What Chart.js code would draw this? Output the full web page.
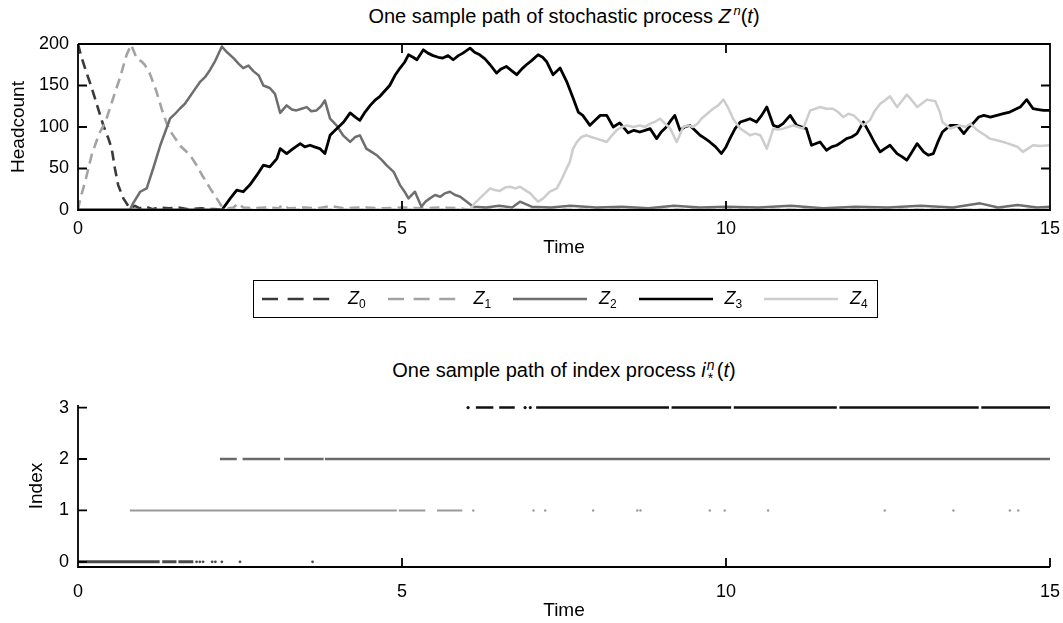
<!DOCTYPE html>
<html>
<head>
<meta charset="utf-8">
<script src="https://cdn.jsdelivr.net/npm/chart.js@4.4.1/dist/chart.umd.min.js"></script>
<style>
body { margin: 0; background: #fff; overflow: hidden; font-family: "Liberation Sans", Arial, sans-serif; }
#wrap { position: relative; width: 1063px; height: 623px; }
canvas { position: absolute; left: 0; }
.title { position: absolute; left: 0; width: 1128px; text-align: center; font-size: 20px; line-height: 24px; color: #000; }
.title sup, .title sub { font-size: 13px; line-height: 0; }
.stack { display: inline-block; position: relative; width: 11px; height: 10px; }
.stack i { position: absolute; left: 1px; top: -9px; font-size: 14px; line-height: 14px; }
.stack b { position: absolute; left: 2px; top: 4px; font-size: 14px; line-height: 14px; font-weight: normal; }
#legend { position: absolute; left: 253px; top: 280px; width: 625px; height: 38px; box-sizing: border-box; border: 1.5px solid #000; }
.item { position: absolute; top: 0; height: 35px; display: flex; align-items: center; font-size: 18px; color: #000; }
.item sub { font-size: 12px; line-height: 0; vertical-align: -0.35em; }
.item svg { margin-right: 12px; }
</style>
</head>
<body>
<div id="wrap">
  <div class="title" style="top:4px">One sample path of stochastic process <i>Z</i><sup>&thinsp;<i>n</i></sup>(<i>t</i>)</div>
  <canvas id="graph1" width="1063" height="330" style="top:0"></canvas>
  <div id="legend"></div>
  <div class="title" style="top:358px">One sample path of index process <i>i</i><span class="stack"><i>n</i><b>*</b></span>(<i>t</i>)</div>
  <canvas id="graph2" width="1063" height="283" style="top:340px"></canvas>
</div>
<script>
// tick values
const timeTicks = [0, 5, 10, 15];
const headcountTicks = [0, 50, 100, 150, 200];
const indexTicks = [0, 1, 2, 3];

// headcount paths Z0..Z4 (time, value)
const z0Time = [0, 0.05, 0.12, 0.2, 0.28, 0.35, 0.4, 0.47, 0.52, 0.57, 0.62, 0.7, 0.8, 0.88, 0.95, 1.05, 1.15, 1.25, 1.4, 1.55, 1.7, 1.9, 2.1, 2.3, 3, 4, 5, 6, 8, 10, 12, 15];
const z0Count = [200, 185, 168, 150, 130, 112, 100, 86, 74, 50, 30, 14, 2, 5, 2, 4, 1, 3, 2, 3, 1, 2, 1, 0, 0, 0, 0, 0, 0, 0, 0, 0];

const z1Time = [0, 0.03, 0.11, 0.21, 0.29, 0.34, 0.39, 0.44, 0.54, 0.65, 0.75, 0.82, 0.91, 0.98, 1.03, 1.1, 1.21, 1.29, 1.37, 1.45, 1.52, 1.57, 1.65, 1.73, 1.83, 1.93, 2.04, 2.14, 2.22, 2.32, 2.4, 2.47, 2.55, 2.7, 2.9, 3.1, 3.15, 3.25, 3.5, 3.7, 3.9, 4.1, 4.4, 4.7, 5.0, 5.3, 5.6, 5.9, 6.05, 7, 9, 11, 13, 15];
const z1Count = [0, 12, 34, 66, 84, 94, 101, 110, 134, 160, 187, 199, 182, 179, 175, 166, 143, 122, 104, 92, 84, 78, 72, 66, 54, 40, 26, 14, 4, 2, 3, 8, 3, 2, 3, 2, 6, 2, 3, 2, 5, 2, 3, 2, 3, 2, 3, 2, 0, 0, 0, 0, 0, 0];

const z2Time = [0, 0.8, 0.85, 0.96, 1.06, 1.16, 1.27, 1.42, 1.5, 1.57, 1.65, 1.73, 1.8, 1.88, 1.96, 2.04, 2.12, 2.22, 2.3, 2.4, 2.48, 2.55, 2.63, 2.71, 2.79, 2.86, 2.96, 3.04, 3.12, 3.22, 3.3, 3.37, 3.45, 3.53, 3.6, 3.68, 3.75, 3.81, 3.89, 3.99, 4.09, 4.2, 4.28, 4.35, 4.45, 4.53, 4.61, 4.69, 4.76, 4.87, 4.97, 5.04, 5.1, 5.2, 5.3, 5.36, 5.43, 5.51, 5.59, 5.66, 5.74, 5.82, 5.9, 6.0, 6.1, 6.3, 6.5, 6.7, 6.82, 7.0, 7.3, 7.6, 8.0, 8.4, 8.8, 9.2, 9.6, 10.0, 10.5, 11.0, 11.5, 12.0, 12.5, 13.0, 13.5, 13.92, 14.2, 14.5, 14.8, 15];
const z2Count = [0, 0, 8, 22, 26, 50, 78, 110, 116, 122, 128, 137, 145, 154, 160, 169, 180, 197, 190, 183, 176, 171, 174, 167, 162, 150, 147, 140, 117, 126, 121, 120, 122, 124, 119, 120, 125, 132, 110, 102, 90, 82, 88, 90, 74, 70, 66, 60, 54, 46, 30, 22, 14, 22, 4, 10, 14, 18, 16, 20, 22, 18, 16, 10, 4, 3, 5, 3, 10, 4, 3, 5, 3, 4, 2, 5, 3, 4, 3, 5, 2, 4, 3, 5, 3, 8, 3, 6, 3, 4];

const z3Time = [0, 2.22, 2.35, 2.45, 2.55, 2.65, 2.76, 2.86, 2.96, 3.07, 3.12, 3.22, 3.32, 3.43, 3.5, 3.58, 3.65, 3.73, 3.81, 3.89, 3.94, 4.02, 4.1, 4.2, 4.28, 4.35, 4.43, 4.51, 4.58, 4.66, 4.74, 4.81, 4.89, 4.97, 5.04, 5.1, 5.17, 5.23, 5.33, 5.4, 5.48, 5.56, 5.63, 5.71, 5.79, 5.87, 5.94, 6.05, 6.12, 6.2, 6.28, 6.36, 6.46, 6.53, 6.61, 6.69, 6.77, 6.85, 6.92, 7.0, 7.1, 7.17, 7.23, 7.33, 7.44, 7.54, 7.64, 7.72, 7.79, 7.9, 7.98, 8.06, 8.16, 8.26, 8.36, 8.49, 8.58, 8.67, 8.75, 8.83, 8.93, 9.0, 9.08, 9.15, 9.21, 9.29, 9.36, 9.44, 9.52, 9.6, 9.68, 9.75, 9.84, 9.93, 10.0, 10.06, 10.14, 10.22, 10.3, 10.37, 10.47, 10.55, 10.63, 10.73, 10.8, 10.88, 10.99, 11.09, 11.17, 11.24, 11.32, 11.45, 11.55, 11.63, 11.71, 11.79, 11.86, 11.94, 12.02, 12.12, 12.22, 12.3, 12.38, 12.45, 12.53, 12.64, 12.72, 12.79, 12.87, 12.95, 13.05, 13.12, 13.2, 13.27, 13.34, 13.46, 13.57, 13.67, 13.75, 13.82, 13.9, 13.98, 14.08, 14.18, 14.28, 14.38, 14.46, 14.54, 14.64, 14.74, 14.82, 14.9, 15];
const z3Count = [0, 0, 14, 24, 22, 30, 42, 54, 52, 62, 74, 68, 74, 80, 76, 78, 76, 74, 68, 90, 94, 100, 106, 117, 112, 108, 118, 126, 132, 137, 144, 150, 162, 171, 178, 187, 184, 181, 193, 189, 186, 184, 183, 186, 181, 186, 189, 195, 190, 187, 182, 175, 165, 170, 173, 168, 163, 170, 175, 180, 187, 184, 179, 163, 171, 155, 135, 118, 114, 102, 108, 114, 114, 100, 105, 93, 96, 94, 96, 98, 86, 94, 100, 108, 114, 96, 100, 102, 96, 90, 86, 82, 76, 68, 76, 86, 98, 106, 108, 110, 106, 114, 124, 102, 100, 104, 114, 102, 100, 98, 78, 82, 72, 76, 78, 82, 86, 88, 92, 106, 92, 80, 70, 74, 78, 68, 64, 60, 70, 80, 70, 66, 68, 82, 94, 102, 102, 92, 100, 105, 112, 114, 112, 114, 116, 118, 121, 124, 133, 122, 121, 120, 120];

const z4Time = [0, 6.05, 6.12, 6.2, 6.28, 6.36, 6.43, 6.51, 6.59, 6.67, 6.75, 6.82, 6.9, 6.98, 7.04, 7.1, 7.18, 7.28, 7.39, 7.47, 7.54, 7.59, 7.64, 7.7, 7.77, 7.85, 7.92, 8.0, 8.08, 8.16, 8.24, 8.31, 8.39, 8.47, 8.57, 8.67, 8.75, 8.83, 8.9, 8.98, 9.06, 9.14, 9.24, 9.34, 9.42, 9.49, 9.56, 9.62, 9.71, 9.8, 9.88, 9.96, 10.04, 10.11, 10.22, 10.3, 10.37, 10.45, 10.53, 10.63, 10.73, 10.8, 10.88, 10.96, 11.04, 11.11, 11.19, 11.3, 11.38, 11.45, 11.55, 11.65, 11.73, 11.81, 11.89, 11.97, 12.05, 12.12, 12.22, 12.3, 12.38, 12.45, 12.53, 12.64, 12.72, 12.79, 12.87, 12.95, 13.02, 13.1, 13.23, 13.3, 13.34, 13.46, 13.53, 13.61, 13.69, 13.77, 13.85, 13.92, 14.0, 14.07, 14.18, 14.28, 14.36, 14.43, 14.5, 14.58, 14.66, 14.74, 14.85, 15];
const z4Count = [0, 0, 8, 14, 20, 26, 24, 23, 27, 28, 26, 28, 24, 20, 15, 10, 14, 22, 26, 38, 50, 58, 74, 82, 88, 90, 88, 86, 84, 82, 90, 96, 100, 102, 100, 102, 100, 104, 106, 110, 104, 98, 82, 100, 102, 100, 104, 110, 116, 122, 126, 133, 122, 110, 98, 94, 90, 92, 90, 74, 98, 97, 98, 100, 102, 100, 98, 120, 122, 124, 122, 122, 118, 112, 116, 114, 108, 102, 108, 120, 128, 132, 137, 124, 132, 139, 132, 124, 128, 133, 131, 118, 106, 98, 100, 102, 100, 104, 98, 94, 90, 86, 84, 82, 80, 78, 76, 70, 74, 78, 77, 78];

// index process: continuous stretches [from, to] and isolated samples, per index level
const idx0Runs = [[0, 1.26], [1.3, 1.52], [1.55, 1.78]];
const idx0Dots = [1.83, 1.88, 1.93, 2.07, 2.12, 2.22, 2.5, 3.62];
const idx1Runs = [[0.8, 4.92], [4.95, 5.36], [5.54, 5.93]];
const idx1Dots = [6.1, 7.03, 7.21, 7.95, 8.63, 8.68, 9.75, 9.98, 10.65, 12.45, 13.51, 14.38, 14.51];
const idx2Runs = [[2.19, 2.45], [2.54, 3.12], [3.18, 3.79], [3.81, 15]];
const idx2Dots = [];
const idx3Runs = [[6.14, 6.41], [6.5, 6.74], [7.07, 9.12], [9.16, 10.08], [10.12, 11.71], [11.75, 13.9], [13.94, 15]];
const idx3Dots = [6.02, 6.9, 6.98];

Chart.defaults.font.family = '"Liberation Sans", Arial, sans-serif';
Chart.defaults.color = '#000';

function toPoints(times, values) {
    return times.map((t, i) => ({ x: t, y: values[i] }));
}

function runsToPoints(runs, level) {
    var pts = [];
    runs.forEach(function (r) {
        pts.push({ x: r[0], y: level }, { x: r[1], y: level }, { x: r[1], y: null });
    });
    return pts;
}

// box / axes with inward tick marks, drawn from the chart's own scales
const framePlugin = {
    id: 'frame',
    afterDraw(chart, args, opts) {
        const { ctx, chartArea: a, scales: { x, y } } = chart;
        const L = 9;
        ctx.save();
        ctx.strokeStyle = '#000';
        ctx.lineWidth = 1.8;
        ctx.beginPath();
        ctx.moveTo(a.left, a.top);
        ctx.lineTo(a.left, a.bottom);
        ctx.lineTo(a.right, a.bottom);
        if (opts.box) {
            ctx.lineTo(a.right, a.top);
            ctx.lineTo(a.left, a.top);
        }
        x.ticks.forEach(function (t) {
            var px = x.getPixelForValue(t.value);
            ctx.moveTo(px, a.bottom);
            ctx.lineTo(px, a.bottom - L);
            if (opts.box) {
                ctx.moveTo(px, a.top);
                ctx.lineTo(px, a.top + L);
            }
        });
        y.ticks.forEach(function (t) {
            var py = y.getPixelForValue(t.value);
            ctx.moveTo(a.left, py);
            ctx.lineTo(a.left + L, py);
            if (opts.box) {
                ctx.moveTo(a.right, py);
                ctx.lineTo(a.right - L, py);
            }
        });
        ctx.stroke();
        ctx.restore();
    }
};

// legend built from the datasets of the top chart
const htmlLegendPlugin = {
    id: 'htmlLegend',
    afterUpdate(chart) {
        var box = document.getElementById('legend');
        var html = '';
        chart.data.datasets.forEach(function (ds, i) {
            var dash = ds.borderDash ? ds.borderDash.map(d => d * 1.6).join(',') : 'none';
            html += '<div class="item" style="left:' + (8 + i * 125.5) + 'px">' +
                '<svg width="74" height="10"><line x1="0" y1="5" x2="74" y2="5" stroke="' + ds.borderColor +
                '" stroke-width="' + Math.min(ds.borderWidth, 2.5) + '" stroke-dasharray="' + dash + '"/></svg>' +
                '<span><i>' + ds.label.charAt(0) + '</i><sub>' + ds.label.slice(1) + '</sub></span></div>';
        });
        box.innerHTML = html;
    }
};

function fixedTicks(values) {
    return function (scale) {
        scale.ticks = values.map(v => ({ value: v }));
    };
}

function fixHeight(h) {
    return function (scale) {
        scale.height = h;
        scale.paddingLeft = 0;
        scale.paddingRight = 0;
    };
}

function fixWidth(w) {
    return function (scale) {
        scale.width = w;
    };
}

var ctx = document.getElementById('graph1').getContext('2d');
var myChart = new Chart(ctx, {
    type: 'line',
    data: {
        datasets: [
            { label: 'Z0', data: toPoints(z0Time, z0Count), borderColor: '#3a3a3a', borderWidth: 2.6, borderDash: [10, 6], order: 5 },
            { label: 'Z1', data: toPoints(z1Time, z1Count), borderColor: '#a3a3a3', borderWidth: 2.6, borderDash: [10, 6], order: 4 },
            { label: 'Z2', data: toPoints(z2Time, z2Count), borderColor: '#6e6e6e', borderWidth: 2.5, order: 3 },
            { label: 'Z3', data: toPoints(z3Time, z3Count), borderColor: '#000000', borderWidth: 2.8, order: 2 },
            { label: 'Z4', data: toPoints(z4Time, z4Count), borderColor: '#cdcdcd', borderWidth: 2.5, order: 1 }
        ]
    },
    options: {
        responsive: false,
        animation: false,
        layout: { padding: { top: 44, right: 13, bottom: 68, left: 0 } },
        elements: {
            point: { radius: 0 },
            line: { tension: 0, borderJoinStyle: 'round' }
        },
        plugins: {
            legend: { display: false },
            tooltip: { enabled: false },
            frame: { box: true }
        },
        scales: {
            x: {
                type: 'linear',
                min: 0,
                max: 15,
                afterBuildTicks: fixedTicks(timeTicks),
                afterFit: fixHeight(52),
                grid: { display: false, drawTicks: false },
                border: { display: false },
                ticks: { padding: 8, font: { size: 18 } },
                title: { display: true, text: 'Time', font: { size: 19 }, padding: { top: 0, bottom: 3 } }
            },
            y: {
                min: 0,
                max: 200,
                afterBuildTicks: fixedTicks(headcountTicks),
                afterFit: fixWidth(78),
                grid: { display: false, drawTicks: false },
                border: { display: false },
                ticks: { padding: 9, font: { size: 18 } },
                title: { display: true, text: 'Headcount', font: { size: 19 }, padding: { top: 7, bottom: 0 } }
            }
        }
    },
    plugins: [framePlugin, htmlLegendPlugin]
});

var ctx2 = document.getElementById('graph2').getContext('2d');
var myChart2 = new Chart(ctx2, {
    type: 'scatter',
    data: {
        datasets: [
            { label: 'i=0', data: runsToPoints(idx0Runs, 0), showLine: true, borderColor: '#4a4a4a', borderWidth: 3, pointRadius: 0 },
            { label: 'i=0 dots', data: idx0Dots.map(t => ({ x: t, y: 0 })), backgroundColor: '#4a4a4a', borderWidth: 0, pointRadius: 1.4 },
            { label: 'i=1', data: runsToPoints(idx1Runs, 1), showLine: true, borderColor: '#9a9a9a', borderWidth: 2, pointRadius: 0 },
            { label: 'i=1 dots', data: idx1Dots.map(t => ({ x: t, y: 1 })), backgroundColor: '#9a9a9a', borderWidth: 0, pointRadius: 1.2 },
            { label: 'i=2', data: runsToPoints(idx2Runs, 2), showLine: true, borderColor: '#6a6a6a', borderWidth: 2.5, pointRadius: 0 },
            { label: 'i=2 dots', data: idx2Dots.map(t => ({ x: t, y: 2 })), backgroundColor: '#6a6a6a', borderWidth: 0, pointRadius: 1.2 },
            { label: 'i=3', data: runsToPoints(idx3Runs, 3), showLine: true, borderColor: '#111111', borderWidth: 2.5, pointRadius: 0 },
            { label: 'i=3 dots', data: idx3Dots.map(t => ({ x: t, y: 3 })), backgroundColor: '#111111', borderWidth: 0, pointRadius: 1.6 }
        ]
    },
    options: {
        responsive: false,
        animation: false,
        spanGaps: false,
        layout: { padding: { top: 65, right: 13, bottom: 0, left: 0 } },
        plugins: {
            legend: { display: false },
            tooltip: { enabled: false },
            frame: { box: false }
        },
        scales: {
            x: {
                type: 'linear',
                min: 0,
                max: 15,
                afterBuildTicks: fixedTicks(timeTicks),
                afterFit: fixHeight(56),
                grid: { display: false, drawTicks: false },
                border: { display: false },
                ticks: { padding: 14, font: { size: 18 } },
                title: { display: true, text: 'Time', font: { size: 19 }, padding: { top: 0, bottom: 1 } }
            },
            y: {
                min: -0.1,
                max: 3.05,
                afterBuildTicks: fixedTicks(indexTicks),
                afterFit: fixWidth(78),
                grid: { display: false, drawTicks: false },
                border: { display: false },
                ticks: { padding: 9, font: { size: 18 } },
                title: { display: true, text: 'Index', font: { size: 19 }, padding: { top: 25, bottom: 0 } }
            }
        }
    },
    plugins: [framePlugin]
});
</script>
</body>
</html>
